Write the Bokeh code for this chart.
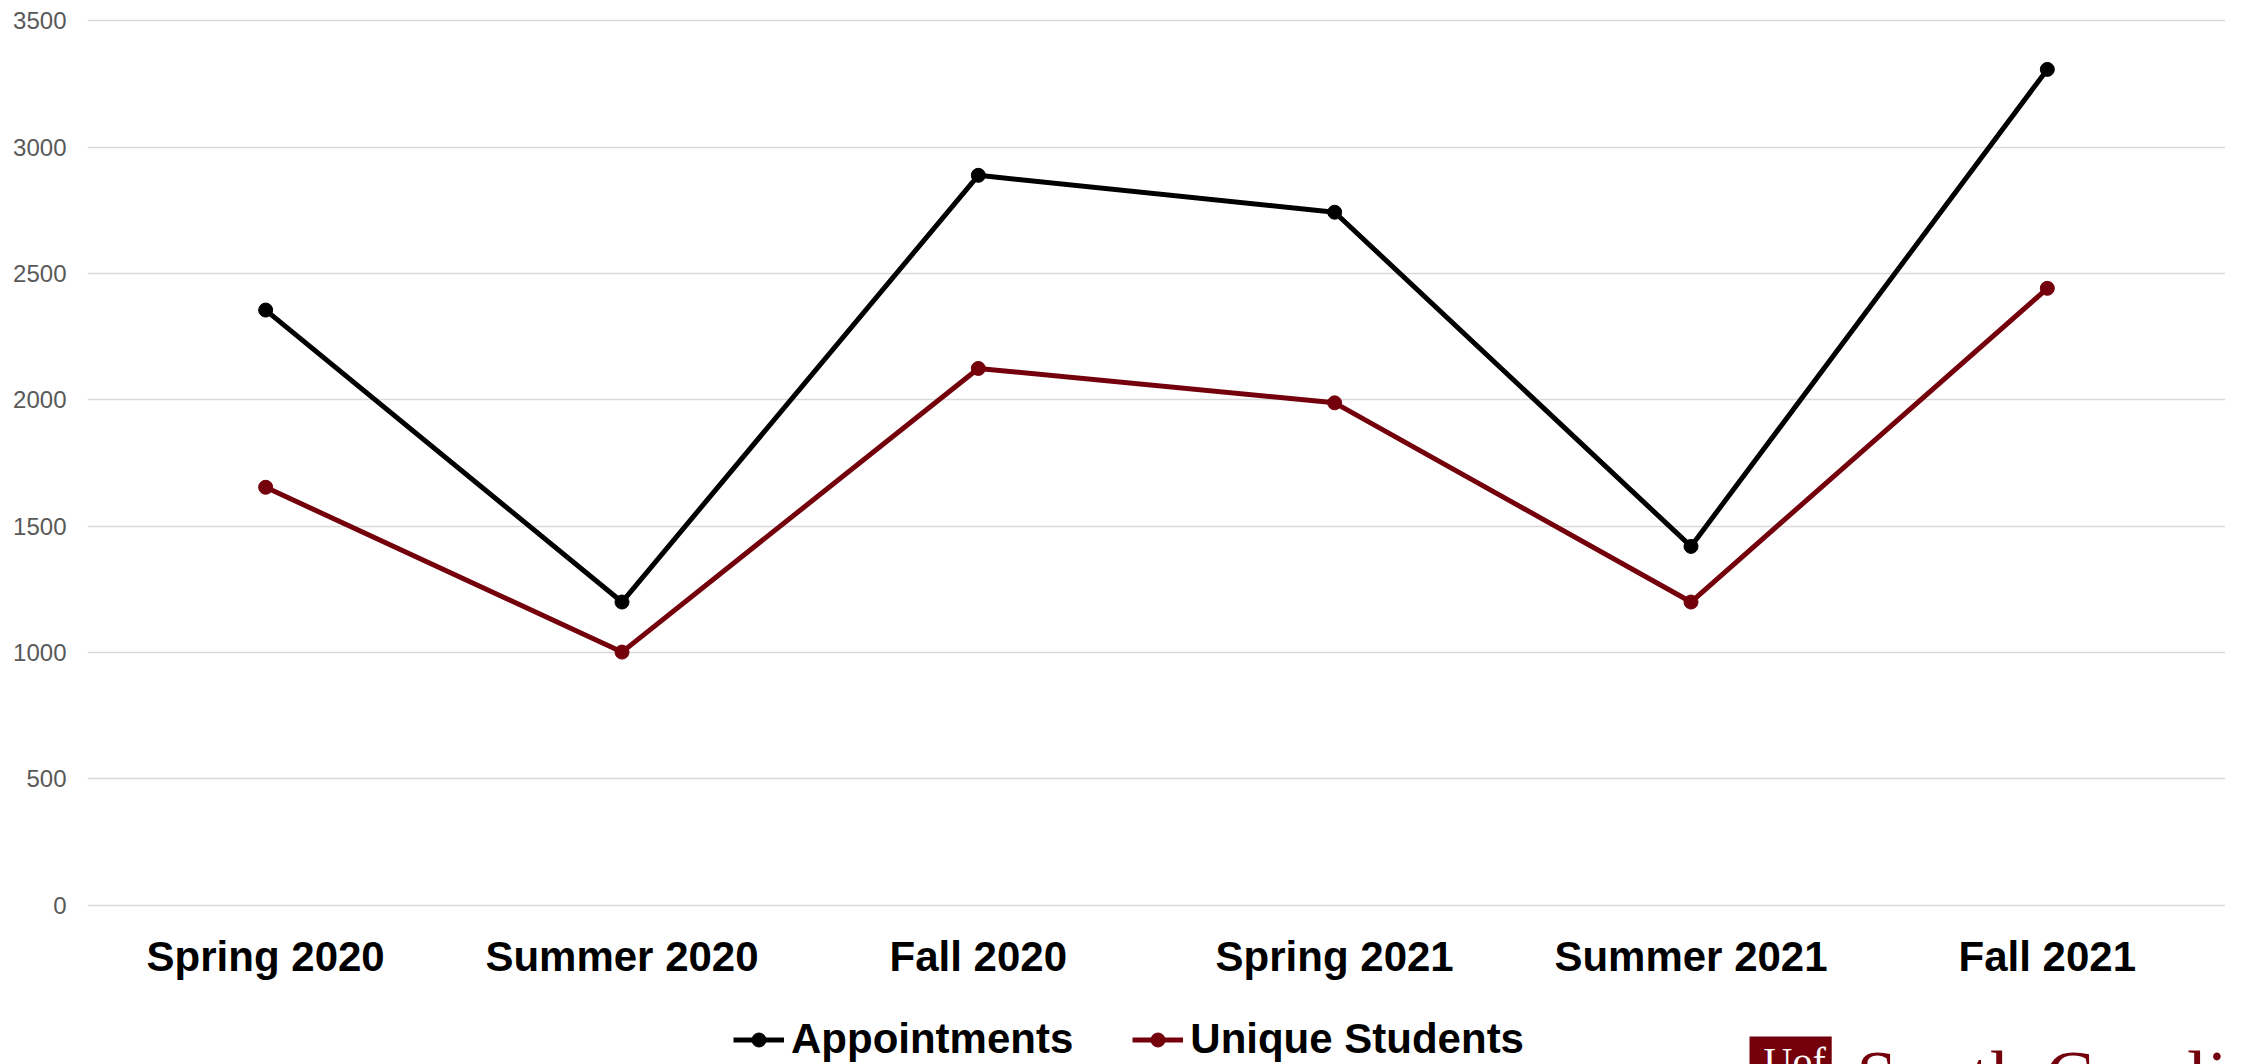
from bokeh.plotting import figure
from bokeh.layouts import column
from bokeh.models import (FactorRange, Range1d, FixedTicker, Legend, LegendItem, Label)
from bokeh.embed import file_html
from bokeh.resources import INLINE

# ---- data ----
terms = ["Spring 2020", "Summer 2020", "Fall 2020", "Spring 2021", "Summer 2021", "Fall 2021"]
appointments = [2355, 1200, 2888, 2742, 1420, 3307]
unique_students = [1654, 1002, 2124, 1988, 1200, 2441]
y_ticks = [0, 500, 1000, 1500, 2000, 2500, 3000, 3500]
series_names = ["Appointments", "Unique Students"]
series_colors = ["#000000", "#73000a"]
logo_mark = "Uof"
logo_text = "South Carolina"

GARNET = "#73000a"
SANS = "Liberation Sans"
FRAME_LEFT = 87

# ---------------- main chart ----------------
p = figure(
    x_range=FactorRange(*terms, range_padding=0),
    y_range=Range1d(-40, 3540),
    width=2244, height=1000,
    output_backend="svg", toolbar_location=None,
    min_border_left=FRAME_LEFT, min_border_right=19, min_border_top=10, min_border_bottom=85,
)
p.outline_line_color = None

for vals, col in zip([appointments, unique_students], series_colors):
    p.line(terms, vals, line_color=col, line_width=5)
    p.scatter(terms, vals, size=14, fill_color=col, line_color=col)

p.xgrid.grid_line_color = None
p.ygrid.grid_line_color = "#d9d9d9"
p.ygrid.grid_line_width = 1.5
p.yaxis.ticker = FixedTicker(ticks=y_ticks)

p.yaxis.axis_line_color = None
p.yaxis.major_tick_line_color = None
p.yaxis.minor_tick_line_color = None
p.yaxis.major_tick_out = 0
p.yaxis.major_label_standoff = 21
p.yaxis.major_label_text_font = SANS
p.yaxis.major_label_text_font_size = "24px"
p.yaxis.major_label_text_color = "#595959"

p.xaxis.axis_line_color = None
p.xaxis.major_tick_line_color = None
p.xaxis.major_tick_out = 0
p.xaxis.major_label_standoff = 17
p.xaxis.major_label_text_font = SANS
p.xaxis.major_label_text_font_style = "bold"
p.xaxis.major_label_text_font_size = "42px"
p.xaxis.major_label_text_color = "#000000"

# ---------------- bottom strip: legend + logo ----------------
# the same series are drawn here far outside the visible y range, so the
# legend (which must live in this strip) has real glyphs to show
q = figure(
    x_range=FactorRange(*terms, range_padding=0), y_range=Range1d(0, 64),
    width=2244, height=64,
    output_backend="svg", toolbar_location=None,
    x_axis_type=None, y_axis_type=None,
    min_border=0, min_border_left=FRAME_LEFT, min_border_right=19,
    min_border_top=0, min_border_bottom=0,
)
q.outline_line_color = None
q.xgrid.visible = False
q.ygrid.visible = False

items = []
for name, vals, col in zip(series_names, [appointments, unique_students], series_colors):
    lr = q.line(terms, vals, line_color=col, line_width=5)
    sr = q.scatter(terms, vals, size=14, fill_color=col, line_color=col)
    items.append(LegendItem(label=name, renderers=[lr, sr]))

legend = Legend(
    items=items,
    orientation="horizontal",
    location=(733 - FRAME_LEFT, 1),
    padding=0, margin=0, spacing=59,
    glyph_width=51, glyph_height=35, label_standoff=7,
    label_text_font=SANS, label_text_font_style="bold",
    label_text_font_size="42px", label_text_color="#000000",
    background_fill_alpha=0, border_line_color=None,
)
q.add_layout(legend, "center")

q.add_layout(Label(x=1749 - FRAME_LEFT, y=28, x_units="screen", y_units="screen",
                   text=logo_mark, text_font="Liberation Serif", text_font_size="40px",
                   text_color="white", text_baseline="top", text_align="left",
                   background_fill_color=GARNET, padding=(14, 6, 2, 40)))
q.add_layout(Label(x=1856 - FRAME_LEFT, y=28, x_units="screen", y_units="screen",
                   text=logo_text, text_font="Liberation Serif", text_font_size="73px",
                   text_color=GARNET, text_baseline="top", text_align="left"))

layout = column(p, q, spacing=0)
open("out.html", "w").write(file_html(layout, INLINE))
